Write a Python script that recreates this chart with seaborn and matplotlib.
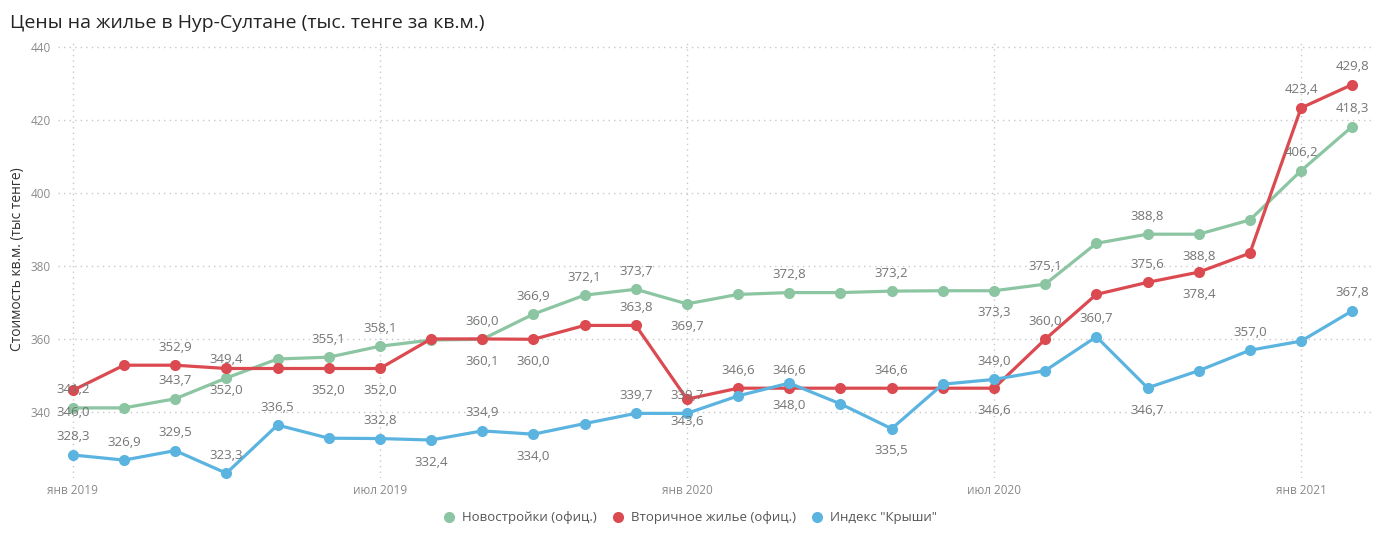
import matplotlib
matplotlib.use("Agg")
import matplotlib.pyplot as plt
from matplotlib.lines import Line2D
import seaborn as sns
import pandas as pd

# monthly points, Jan 2019 .. Feb 2021
months = pd.date_range("2019-01-01", "2021-02-01", freq="MS")
tick_pos = [0, 6, 12, 18, 24]
tick_labels = ["янв 2019", "июл 2019", "янв 2020", "июл 2020", "янв 2021"]

new_build = [341.2, 341.2, 343.7, 349.4, 354.6, 355.1, 358.1, 359.8, 360.0, 366.9,
             372.1, 373.7, 369.7, 372.3, 372.8, 372.8, 373.2, 373.3, 373.3, 375.1,
             386.3, 388.8, 388.8, 392.7, 406.2, 418.3]
secondary = [346.0, 352.9, 352.9, 352.0, 352.0, 352.0, 352.0, 360.1, 360.1, 360.0,
             363.8, 363.8, 343.6, 346.6, 346.6, 346.6, 346.6, 346.6, 346.6, 360.0,
             372.3, 375.6, 378.4, 383.6, 423.4, 429.8]
krisha = [328.3, 326.9, 329.5, 323.3, 336.5, 332.9, 332.8, 332.4, 334.9, 334.0,
          336.9, 339.7, 339.7, 344.5, 348.0, 342.3, 335.5, 347.7, 349.0, 351.4,
          360.7, 346.7, 351.4, 357.0, 359.5, 367.8]

# where the data label sits: a = above, b = below, "" = no label
new_build_lbl = ["a", "", "a", "a", "", "a", "a", "", "a", "a", "a", "a", "b",
                 "", "a", "", "a", "", "b", "a", "", "a", "b", "", "a", "a"]
secondary_lbl = ["b", "", "a", "b", "", "b", "b", "", "b", "b", "", "a", "b",
                 "a", "a", "", "a", "", "b", "a", "", "a", "b", "", "a", "a"]
krisha_lbl = ["a", "a", "a", "a", "a", "", "a", "b", "a", "b", "", "a", "a",
              "", "b", "", "b", "", "a", "", "a", "b", "", "a", "", "a"]

series_names = ["Новостройки (офиц.)", "Вторичное жилье (офиц.)", 'Индекс "Крыши"']
colors = ["#8cc5a2", "#da4a50", "#5bb4e0"]

idx = list(range(len(months)))
df = pd.concat([
    pd.DataFrame({"x": idx, "value": new_build, "series": series_names[0]}),
    pd.DataFrame({"x": idx, "value": secondary, "series": series_names[1]}),
    pd.DataFrame({"x": idx, "value": krisha, "series": series_names[2]}),
])

sns.set_style("white")
plt.rcParams["font.family"] = ["Open Sans", "DejaVu Sans"]

fig = plt.figure(figsize=(13.81, 5.41), dpi=100)
ax = fig.add_axes([0.042, 0.1165, 0.952, 0.8095])

sns.lineplot(data=df, x="x", y="value", hue="series", palette=colors,
             marker="o", markersize=8, markeredgewidth=0, linewidth=2.3,
             legend=False, ax=ax)

for vals, flags in [(new_build, new_build_lbl),
                    (secondary, secondary_lbl),
                    (krisha, krisha_lbl)]:
    for i, (v, f) in enumerate(zip(vals, flags)):
        if not f:
            continue
        dy = 13 if f == "a" else -16
        ax.annotate(f"{v:.1f}".replace(".", ","), (i, v), xytext=(0, dy),
                    textcoords="offset points", ha="center", va="center",
                    fontsize=9.5, color="#757575")

ax.set_xlim(-0.29, 25.4)
ax.set_ylim(322, 442)
ax.set_xticks(tick_pos)
ax.set_xticklabels(tick_labels)
ax.set_yticks([340, 360, 380, 400, 420, 440])
ax.tick_params(axis="both", length=0, labelsize=8.5, labelcolor="#8a8a8a")
ax.tick_params(axis="x", pad=4)
ax.tick_params(axis="y", pad=5)
ax.grid(True, linestyle=(0, (1, 3)), color="#c8c8c8", linewidth=1)
for s in ax.spines.values():
    s.set_visible(False)
ax.set_xlabel("")
ax.set_ylabel("Стоимость кв.м. (тыс тенге)", fontsize=10, color="#333333",
              labelpad=4)

fig.text(0.007, 0.958, "Цены на жилье в Нур-Султане (тыс. тенге за кв.м.)",
         fontsize=14, color="#252423", ha="left", va="center")

handles = [Line2D([], [], linestyle="", marker="o", markersize=8,
                  markerfacecolor=c, markeredgewidth=0) for c in colors]
fig.legend(handles, series_names, loc="center", bbox_to_anchor=(0.497, 0.043),
           ncol=3, frameon=False, fontsize=9.5, handletextpad=0.0,
           columnspacing=0.6, labelcolor="#555555")

fig.savefig("out.png", dpi=100)
